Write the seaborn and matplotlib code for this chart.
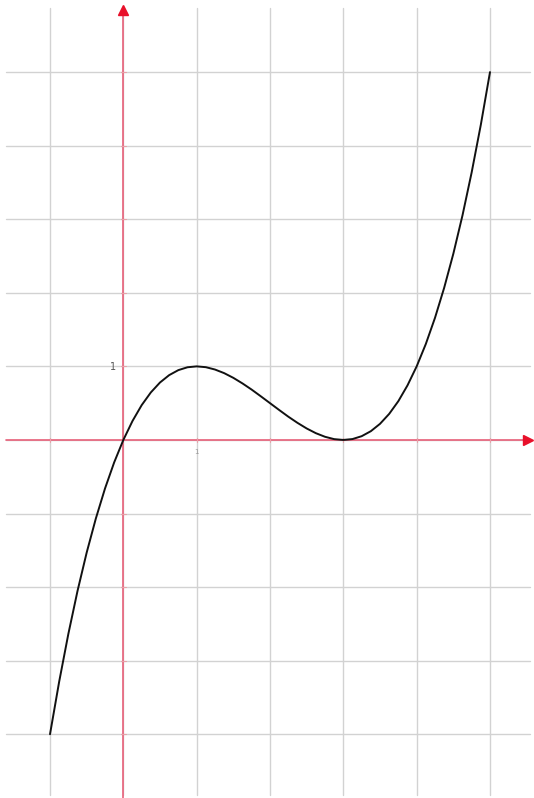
import numpy as np
import pandas as pd
import matplotlib
matplotlib.use("Agg")
import matplotlib.pyplot as plt
import seaborn as sns

# points
x_vals = [-1.0, -0.875, -0.75, -0.625, -0.5, -0.375, -0.25, -0.125,
          0.0, 0.125, 0.25, 0.375, 0.5, 0.625, 0.75, 0.875,
          1.0, 1.125, 1.25, 1.375, 1.5, 1.625, 1.75, 1.875,
          2.0, 2.125, 2.25, 2.375, 2.5, 2.625, 2.75, 2.875,
          3.0, 3.125, 3.25, 3.375, 3.5, 3.625, 3.75, 3.875,
          4.0, 4.125, 4.25, 4.375, 4.5, 4.625, 4.75, 4.875, 5.0]
y_vals = [-4.0, -3.285, -2.637, -2.053, -1.531, -1.068, -0.660, -0.305,
          0.0, 0.258, 0.473, 0.646, 0.781, 0.881, 0.949, 0.988,
          1.0, 0.989, 0.957, 0.908, 0.844, 0.768, 0.684, 0.593,
          0.5, 0.407, 0.316, 0.232, 0.156, 0.092, 0.043, 0.011,
          0.0, 0.012, 0.051, 0.119, 0.219, 0.354, 0.527, 0.742,
          1.0, 1.305, 1.660, 2.068, 2.531, 3.053, 3.637, 4.285, 5.0]

grid_x = [-1, 0, 1, 2, 3, 4, 5]
grid_y = [-4, -3, -2, -1, 0, 1, 2, 3, 4, 5]

df = pd.DataFrame({'x': x_vals, 'y': y_vals})

sns.set_style("white")

fig = plt.figure(figsize=(5.34, 7.98), dpi=100)
ax = fig.add_axes([0, 0, 1, 1])
ax.set_xlim(-1.682, 5.60)
ax.set_ylim(-4.867, 5.98)

grid_col = '#d2d2d2'
for gx in grid_x:
    ax.plot([gx, gx], [-4.83, 5.87], color=grid_col, lw=1.0, zorder=1)
for gy in grid_y:
    ax.plot([-1.6, 5.55], [gy, gy], color=grid_col, lw=1.0, zorder=1)

red = '#e8607a'
ax.plot([-1.6, 5.5], [0, 0], color=red, lw=1.2, zorder=2)
ax.plot([0, 0], [-4.87, 5.8], color=red, lw=1.2, zorder=2)
ax.plot([5.52], [0], marker='>', color='#e8102a', markersize=7, zorder=3)
ax.plot([0], [5.84], marker='^', color='#e8102a', markersize=7, zorder=3)

# small ticks on the axes
for gx in grid_x:
    if gx != 0:
        ax.plot([gx, gx], [-0.03, 0.03], color='#e8a0a8', lw=0.8, zorder=2)
for gy in grid_y:
    if gy != 0:
        ax.plot([-0.03, 0.03], [gy, gy], color='#e8a0a8', lw=0.8, zorder=2)

sns.lineplot(data=df, x='x', y='y', color='#111111', lw=1.4, ax=ax, zorder=4)

ax.text(-0.1, 0.99, '1', fontsize=7, color='#555555', ha='right', va='center')
ax.text(1.0, -0.12, '1', fontsize=5, color='#999999', ha='center', va='top')

ax.set_xlabel('')
ax.set_ylabel('')
ax.set_xticks([])
ax.set_yticks([])
for s in ax.spines.values():
    s.set_visible(False)

fig.savefig('out.png', dpi=100)
